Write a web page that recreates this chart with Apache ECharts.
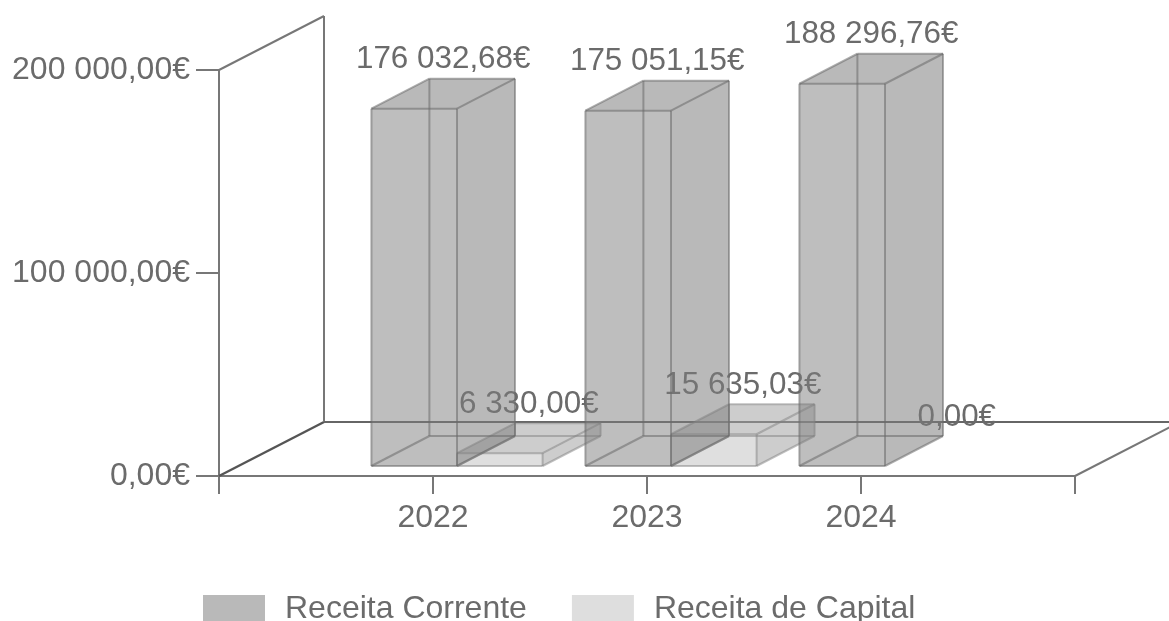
<!DOCTYPE html>
<html><head><meta charset="utf-8">
<style>html,body{margin:0;padding:0;background:#fff}#c{width:1169px;height:621px}</style>
<script src="https://cdn.jsdelivr.net/npm/echarts@6/dist/echarts.min.js"></script>
</head><body><div id="c"></div>
<script>
const categories = ['', '2022', '2023', '2024', ''];
const receitaCorrente = [176032.68, 175051.15, 188296.76];
const receitaCapital = [6330.00, 15635.03, 0.00];
const yTicks = { min: 0, max: 200000, interval: 100000 };

const FONT = '"Liberation Sans", Arial, sans-serif';
const TXT = '#6b6b6b', LINE = '#777777';
const WALL_DX = 105, WALL_DY = -54;
const BAR_DX = 58, BAR_DY = -30, FRONT_DX = 24, FRONT_DY = -10;

function money(v) {
  const s = v.toFixed(2).split('.');
  return s[0].replace(/\B(?=(\d{3})+$)/g, ' ') + ',' + s[1] + '€';
}
function line(p, q, color, w) {
  return { type: 'line', shape: { x1: p[0], y1: p[1], x2: q[0], y2: q[1] },
           style: { stroke: color, lineWidth: w || 2, fill: null } };
}
function poly(points, fill) {
  return { type: 'polygon', shape: { points }, style: { fill, stroke: null } };
}
function wallItem(params, api) {
  const o = api.coord([0, 0]), t = api.coord([0, yTicks.max]), r = api.coord([4, 0]);
  const sh = p => [p[0] + WALL_DX, p[1] + WALL_DY];
  return { type: 'group', children: [
    line(o, sh(o), '#555555', 2.4), line(t, sh(t), LINE), line(sh(o), sh(t), LINE),
    line(sh(o), sh(r), '#666666', 2.2), line(r, sh(r), LINE, 2)
  ]};
}
function barItem(slot, fills, edge) {
  return function (params, api) {
    const cat = api.value(0), val = api.value(1);
    const band = api.size([1, 0])[0], w = band * 0.4;
    const base = api.coord([cat, 0]), top = api.coord([cat, val]);
    const x0 = base[0] + FRONT_DX + (slot - 1) * w, x1 = x0 + w;
    const y0 = base[1] + FRONT_DY, y1 = top[1] + FRONT_DY;
    const label = { type: 'text', z2: 50, style: {
      text: money(val), x: (x0 + x1) / 2 + BAR_DX / 2, y: y1 + BAR_DY - 19,
      fill: TXT, font: '31.4px ' + FONT, align: 'center', verticalAlign: 'middle' } };
    if (!val) return { type: 'group', children: [label] };
    const a = [x0, y0], b = [x1, y0], c = [x1, y1], d = [x0, y1];
    const sh = p => [p[0] + BAR_DX, p[1] + BAR_DY];
    return { type: 'group', children: [
      poly([a, b, sh(b), sh(c), sh(d), d], fills[0]),
      poly([d, c, sh(c), sh(d)], fills[1]),
      poly([b, sh(b), sh(c), c], fills[1]),
      line(a, b, edge), line(b, c, edge), line(c, d, edge), line(d, a, edge),
      line(a, sh(a), edge), line(b, sh(b), edge), line(c, sh(c), edge), line(d, sh(d), edge),
      line(sh(a), sh(b), edge), line(sh(b), sh(c), edge), line(sh(c), sh(d), edge), line(sh(d), sh(a), edge),
      label
    ]};
  };
}
const chart = echarts.init(document.getElementById('c'), null, { renderer: 'canvas' });
chart.setOption({
  animation: false,
  backgroundColor: '#ffffff',
  textStyle: { fontFamily: FONT },
  grid: { left: 219, right: 94, top: 70, bottom: 145, containLabel: false },
  xAxis: { type: 'category', data: categories, boundaryGap: false,
    axisLine: { show: true, onZero: false, lineStyle: { color: LINE, width: 2 } },
    axisTick: { show: true, length: 18, alignWithLabel: true, lineStyle: { color: LINE, width: 2 } },
    axisLabel: { show: true, interval: 0, margin: 26, color: TXT, fontSize: 32, fontFamily: FONT },
    splitLine: { show: false } },
  yAxis: { type: 'value', min: yTicks.min, max: yTicks.max, interval: yTicks.interval,
    axisLine: { show: true, lineStyle: { color: LINE, width: 2 } },
    axisTick: { show: true, length: 23, lineStyle: { color: LINE, width: 2 } },
    axisLabel: { show: true, margin: 29, color: TXT, fontSize: 32, fontFamily: FONT, formatter: money },
    splitLine: { show: false } },
  legend: { show: true, left: 203, top: 593, itemWidth: 62, itemHeight: 28, itemGap: 45, icon: 'rect',
    padding: 0, data: ['Receita Corrente', 'Receita de Capital'],
    textStyle: { color: TXT, fontSize: 32, fontFamily: FONT, padding: [0, 0, 0, 15] } },
  series: [
    { type: 'custom', name: 'wall', silent: true, z: 1, clip: false, data: [[0, 0]], renderItem: wallItem },
    { type: 'custom', name: 'Receita Corrente', z: 3, clip: false, itemStyle: { color: '#b9b9b9' },
      data: receitaCorrente.map((v, i) => [i + 1, v]), encode: { x: 0, y: 1 },
      renderItem: barItem(0, ['rgba(125,125,125,0.5)', 'rgba(125,125,125,0.06)'], 'rgba(105,105,105,0.55)') },
    { type: 'custom', name: 'Receita de Capital', z: 2, clip: false, itemStyle: { color: '#dedede' },
      data: receitaCapital.map((v, i) => [i + 1, v]), encode: { x: 0, y: 1 },
      renderItem: barItem(1, ['rgba(170,170,170,0.38)', 'rgba(150,150,150,0.24)'], 'rgba(130,130,130,0.5)') }
  ]
});
</script></body></html>
